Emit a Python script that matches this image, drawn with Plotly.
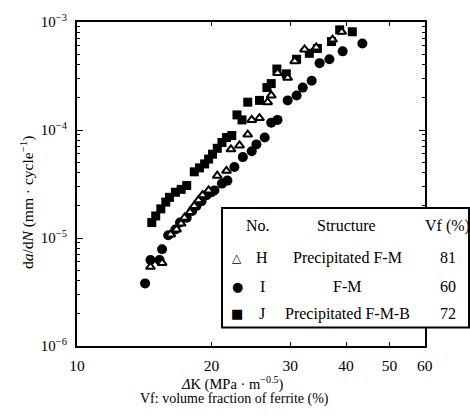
import plotly.graph_objects as go

# Data (ΔK in MPa·m^0.5, da/dN in mm/cycle)
dk_H = [14.6, 15.5, 16.2, 16.7, 17.1, 17.4, 17.9, 18.3, 18.7, 19.1, 19.7, 20.6, 21.6, 22.1,
        23.1, 24.1, 24.6, 25.6, 26.7, 27.2, 28.1, 29.6, 30.7, 32.3, 34.3, 37.3, 39.1]
dadn_H = [5.41e-6, 5.88e-6, 1.08e-5, 1.20e-5, 1.36e-5, 1.54e-5, 1.74e-5, 1.98e-5, 2.24e-5,
          2.49e-5, 2.76e-5, 3.77e-5, 4.19e-5, 6.63e-5, 7.20e-5, 9.07e-5, 1.24e-4, 1.29e-4,
          1.81e-4, 2.09e-4, 3.38e-4, 3.04e-4, 4.34e-4, 5.57e-4, 5.81e-4, 6.87e-4, 8.12e-4]

dk_I = [14.2, 14.6, 15.3, 15.5, 16.0, 16.6, 17.0, 17.6, 18.1, 18.5, 19.0, 19.5, 20.0, 20.3,
        21.1, 21.7, 22.5, 23.5, 24.6, 25.2, 26.3, 27.2, 28.1, 29.6, 31.0, 32.0, 33.5, 34.9,
        36.7, 39.3, 43.5]
dadn_I = [3.80e-6, 6.26e-6, 6.26e-6, 7.88e-6, 1.06e-5, 1.20e-5, 1.39e-5, 1.54e-5, 1.78e-5,
          1.98e-5, 2.19e-5, 2.49e-5, 2.65e-5, 2.76e-5, 3.19e-5, 3.40e-5, 4.55e-5, 5.61e-5,
          6.36e-5, 7.36e-5, 8.51e-5, 1.17e-4, 1.24e-4, 1.88e-4, 2.09e-4, 2.47e-4, 2.86e-4,
          4.16e-4, 4.52e-4, 5.35e-4, 6.32e-4]

dk_J = [14.7, 15.0, 15.4, 15.8, 16.1, 16.6, 17.1, 17.6, 18.3, 18.8, 19.3, 19.7, 20.1, 20.6,
        21.1, 21.6, 22.2, 22.8, 23.4, 24.1, 25.6, 26.6, 27.2, 28.0, 29.4, 31.0, 33.1, 34.5,
        37.1, 38.7, 41.3]
dadn_J = [1.39e-5, 1.60e-5, 1.86e-5, 2.15e-5, 2.38e-5, 2.65e-5, 2.82e-5, 3.06e-5, 4.10e-5,
          4.46e-5, 4.85e-5, 5.38e-5, 5.97e-5, 6.77e-5, 7.67e-5, 8.51e-5, 8.88e-5, 1.38e-4,
          1.24e-4, 1.81e-4, 1.88e-4, 2.47e-4, 2.69e-4, 3.67e-4, 3.31e-4, 4.52e-4, 5.13e-4,
          5.69e-4, 6.59e-4, 8.46e-4, 8.12e-4]

x_ticks = [10, 20, 30, 40, 50, 60]
x_ticktext = ["10", "20", "30", "40", "50", "60"]
y_ticks = [1e-6, 1e-5, 1e-4, 1e-3]
y_ticktext = ["10<sup>−6</sup>", "10<sup>−5</sup>", "10<sup>−4</sup>", "10<sup>−3</sup>"]
y_minor = [m * 10.0 ** e for e in (-6, -5, -4) for m in range(2, 10)]

legend_rows = [
    ("△", "H", "Precipitated F-M", "81"),
    ("●", "I", "F-M", "60"),
    ("■", "J", "Precipitated F-M-B", "72"),
]

FONT = "Liberation Serif, Times New Roman, serif"

fig = go.Figure()
fig.add_trace(go.Scatter(x=dk_J, y=dadn_J, mode="markers",
                         marker=dict(symbol="square", size=9, color="black"), showlegend=False))
fig.add_trace(go.Scatter(x=dk_I, y=dadn_I, mode="markers",
                         marker=dict(symbol="circle", size=10, color="black"), showlegend=False))
fig.add_trace(go.Scatter(x=dk_H, y=dadn_H, mode="markers",
                         marker=dict(symbol="triangle-up", size=8, color="white",
                                     line=dict(color="black", width=2)), showlegend=False))

fig.update_xaxes(type="log", range=[1, 1.7786], tickvals=x_ticks, ticktext=x_ticktext,
                 ticks="inside", ticklen=4, tickwidth=1, tickcolor="black",
                 showline=True, linecolor="black", linewidth=2, mirror="ticks",
                 showgrid=False, zeroline=False, ticklabelstandoff=4,
                 tickfont=dict(family=FONT, size=15.5, color="black"))
fig.update_yaxes(type="log", range=[-6, -3], tickvals=y_ticks, ticktext=y_ticktext,
                 ticks="inside", ticklen=6, tickwidth=1, tickcolor="black",
                 minor=dict(tickvals=y_minor, ticks="inside", ticklen=3, tickcolor="black"),
                 showline=True, linecolor="black", linewidth=2, mirror="ticks",
                 showgrid=False, zeroline=False, ticklabelstandoff=5,
                 tickfont=dict(family=FONT, size=15, color="black"))

L, R, T, B = 77, 45, 15, 72
W, H = 470, 418
pw, ph = W - L - R, H - T - B

def px(xp):
    return (xp - L) / pw

def py(yp):
    return (H - B - yp) / ph

shapes = [dict(type="rect", xref="paper", yref="paper",
               x0=px(222), x1=px(469), y0=py(327), y1=py(205),
               fillcolor="white", line=dict(color="black", width=2), layer="above")]

ann = []
def text(x, y, s, size=16, xanchor="center", **kw):
    ann.append(dict(x=px(x), y=py(y), xref="paper", yref="paper", text=s, showarrow=False,
                    xanchor=xanchor, yanchor="middle",
                    font=dict(family=FONT, size=size, color="black"), **kw))

text(258, 223, "No.")
text(346, 223, "Structure")
text(447, 223, "Vf (%)")
row_y = [256, 285, 313]
for (sym, no, struct, vf), yy in zip(legend_rows, row_y):
    ann.append(dict(x=px(237), y=py(yy), xref="paper", yref="paper", text=sym,
                    showarrow=False, xanchor="center", yanchor="middle",
                    font=dict(family="DejaVu Sans", size=12 if sym == "△" else 13, color="black")))
    text(262, yy, no)
    text(347, yy, struct)
    text(448, yy, vf)

text(232, 384, "<i>Δ</i>K (MPa · m<sup>−0.5</sup>)", size=14.5)
text(234, 400, "Vf: volume fraction of ferrite (%)", size=14)
ann.append(dict(x=px(27), y=py(200), xref="paper", yref="paper",
                text="d<i>a</i>/d<i>N</i> (mm · cycle<sup>−1</sup>)", showarrow=False,
                textangle=-90, xanchor="center", yanchor="middle",
                font=dict(family=FONT, size=15.5, color="black")))

fig.update_layout(width=W, height=H, margin=dict(l=L, r=R, t=T, b=B),
                  paper_bgcolor="white", plot_bgcolor="white",
                  shapes=shapes, annotations=ann, showlegend=False)

fig.write_html("out.html", config={"displayModeBar": False},
               post_script="document.body.style.margin='0';")
